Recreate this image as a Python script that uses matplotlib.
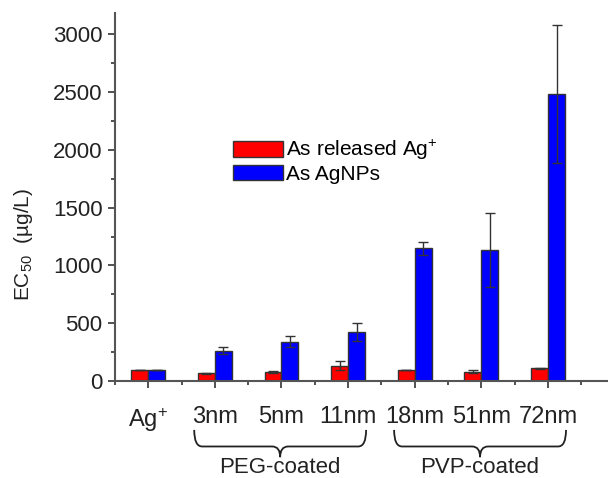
import numpy as np
import matplotlib
matplotlib.use('Agg')
from matplotlib import pyplot as plt
from matplotlib.path import Path
from matplotlib.patches import PathPatch
from matplotlib.ticker import MultipleLocator
import matplotlib.transforms as mtransforms

plt.rcParams['font.family'] = ['Liberation Sans', 'DejaVu Sans']
plt.rcParams['mathtext.fontset'] = 'custom'
plt.rcParams['mathtext.rm'] = 'Liberation Sans'
plt.rcParams['mathtext.it'] = 'Liberation Sans:italic'

# EC50 values in ug/L
categories = ['Ag$^{+}$', '3nm', '5nm', '11nm', '18nm', '51nm', '72nm']
released = [95, 65, 78, 132, 95, 80, 110]
released_err = [4, 5, 12, 38, 3, 12, 4]
agnps = [95, 262, 340, 426, 1147, 1133, 2485]
agnps_err = [4, 29, 50, 78, 55, 318, 595]

groups = ['PEG-coated', 'PVP-coated']
group_span = [(1, 3), (4, 6)]


def draw_brace(ax, x0, x1, label):
    trans = mtransforms.blended_transform_factory(ax.transData, ax.transAxes)
    ytop, ymid, ytip = -0.133, -0.178, -0.207
    rx = 0.12
    xc = (x0 + x1) / 2
    verts = [(x0, ytop), (x0, ymid), (x0 + rx, ymid),
             (xc - rx, ymid), (xc, ymid), (xc, ytip),
             (xc, ymid), (xc + rx, ymid),
             (x1 - rx, ymid), (x1, ymid), (x1, ytop)]
    codes = [Path.MOVETO, Path.CURVE3, Path.CURVE3,
             Path.LINETO, Path.CURVE3, Path.CURVE3,
             Path.CURVE3, Path.CURVE3,
             Path.LINETO, Path.CURVE3, Path.CURVE3]
    patch = PathPatch(Path(verts, codes), transform=trans, fill=False,
                      edgecolor='#222222', lw=1.3, clip_on=False)
    ax.add_patch(patch)
    ax.text(xc, -0.207, label, transform=trans, ha='center', va='top',
            fontsize=16, color='#222222')


fig = plt.figure(figsize=(6.08, 4.78), dpi=100)
ax = fig.add_axes([0.189, 0.203, 0.811, 0.770])

x = np.arange(len(categories))
w = 0.255
err_kw = dict(ecolor='#333333', elinewidth=1, capsize=3.5, capthick=1)
ax.bar(x - w / 2, released, w, yerr=released_err, color='#ff0000',
       edgecolor='#333333', lw=1, error_kw=err_kw, label='As released Ag$^{+}$')
ax.bar(x + w / 2, agnps, w, yerr=agnps_err, color='#0000ff',
       edgecolor='#333333', lw=1, error_kw=err_kw, label='As AgNPs')

ax.set_xlim(-0.5, 6.9)
ax.set_ylim(0, 3186)
ax.set_xticks(x)
ax.set_xticklabels(categories)
ax.xaxis.set_minor_locator(MultipleLocator(1, offset=0.5))
ax.yaxis.set_major_locator(MultipleLocator(500))
ax.yaxis.set_minor_locator(MultipleLocator(250))

for side in ['top', 'right']:
    ax.spines[side].set_visible(False)
for side in ['left', 'bottom']:
    ax.spines[side].set_color('#555555')
    ax.spines[side].set_linewidth(1.5)

ax.tick_params(axis='y', which='major', length=5, width=1.2, pad=4,
               labelsize=16, color='#333333', labelcolor='#222222')
ax.tick_params(axis='y', which='minor', length=3, width=1.2, color='#333333')
ax.tick_params(axis='x', which='major', length=5, width=1.2, pad=13,
               labelsize=17, color='#333333', labelcolor='#222222')
ax.tick_params(axis='x', which='minor', length=3, width=1.2, color='#333333')

ax.set_ylabel('EC$_{50}$  (\u00b5g/L)', fontsize=15, color='#222222')
ax.yaxis.set_label_coords(-0.162, 0.37)

ax.legend(loc='upper left', bbox_to_anchor=(0.239, 0.66), frameon=False,
          fontsize=15, handlelength=2.4, handleheight=0.75,
          handletextpad=0.15, labelspacing=0.12, borderpad=0,
          borderaxespad=0)

for label, (a, b) in zip(groups, group_span):
    draw_brace(ax, a - 0.31, b + 0.27, label)

fig.savefig('out.png', dpi=100)
